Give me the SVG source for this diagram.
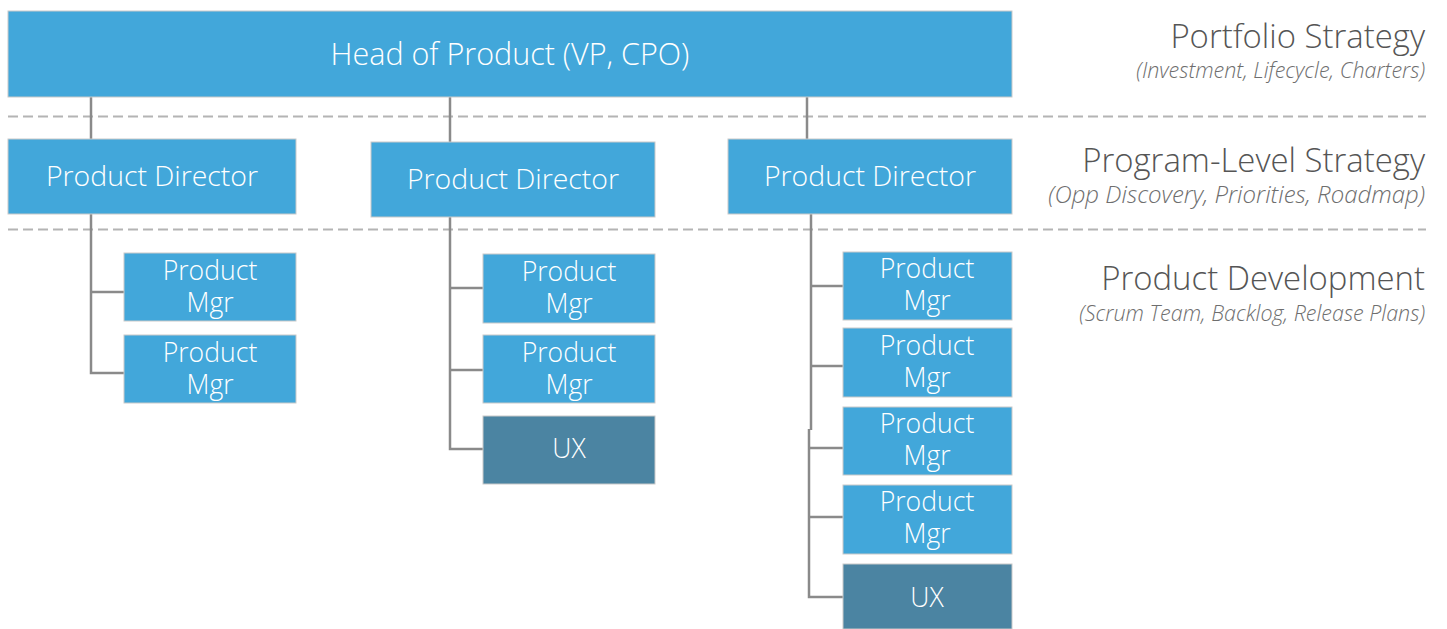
<svg xmlns="http://www.w3.org/2000/svg" width="1447" height="629" viewBox="0 0 1447 629">
  <style>
    .box { fill: #42a7da; stroke: #c9c9c9; stroke-width: 1; }
    .ux { fill: #4b84a2; stroke: #c9c9c9; stroke-width: 1; }
    .lbl { font-family: "Open Sans", "Liberation Sans", sans-serif; font-weight: 300; fill: #ffffff; text-anchor: middle; }
    .head { font-size: 30.5px; }
    .dir { font-size: 28.4px; }
    .mgr { font-size: 26.6px; }
    .tier { font-family: "Open Sans", "Liberation Sans", sans-serif; font-weight: 300; fill: #555555; text-anchor: end; font-size: 32.9px; }
    .sub { font-family: "Open Sans", "Liberation Sans", sans-serif; font-weight: 300; fill: #6e6e6e; text-anchor: end; font-size: 21.5px; font-style: italic; }
    .sub-lg { font-size: 24px; }
    .divider { stroke: #b4b4b4; stroke-width: 2; stroke-dasharray: 10 5; fill: none; }
    .wire { stroke: #8a8a8a; stroke-width: 2.5; fill: none; }
  </style>

  <!-- tier dividers -->
  <g id="dividers">
    <line class="divider" x1="8" y1="116.5" x2="1426" y2="116.5"/>
    <line class="divider" x1="8" y1="229.5" x2="1426" y2="229.5"/>
  </g>

  <!-- connectors -->
  <g id="connectors">
    <path class="wire" d="M91 97 V139 M450 97 V142 M807 97 V139"/>
    <path class="wire" d="M91 214 V373 H124 M91 292 H124"/>
    <path class="wire" d="M450 217 V449 H483 M450 288 H483 M450 370 H483"/>
    <path class="wire" d="M811 214 V430 M809 429 V597 H843 M811 286 H843 M811 366 H843 M810 448 H843 M809 517 H843"/>
  </g>

  <!-- tier labels -->
  <g id="tier-portfolio">
    <text class="tier" x="1425" y="48">Portfolio Strategy</text>
    <text class="sub" x="1425" y="78">(Investment, Lifecycle, Charters)</text>
  </g>
  <g id="tier-program">
    <text class="tier" x="1425" y="172">Program-Level Strategy</text>
    <text class="sub sub-lg" x="1425" y="203">(Opp Discovery, Priorities, Roadmap)</text>
  </g>
  <g id="tier-development">
    <text class="tier" x="1425" y="290">Product Development</text>
    <text class="sub" x="1425" y="321">(Scrum Team, Backlog, Release Plans)</text>
  </g>

  <!-- head -->
  <g id="head">
    <rect class="box" x="8" y="11" width="1004" height="86"/>
    <text class="lbl head" x="510" y="65">Head of Product (VP, CPO)</text>
  </g>

  <!-- directors -->
  <g id="director-1">
    <rect class="box" x="8" y="139" width="288" height="75"/>
    <text class="lbl dir" x="152" y="186">Product Director</text>
  </g>
  <g id="director-2">
    <rect class="box" x="371" y="142" width="284" height="75"/>
    <text class="lbl dir" x="513" y="189">Product Director</text>
  </g>
  <g id="director-3">
    <rect class="box" x="728" y="139" width="284" height="75"/>
    <text class="lbl dir" x="870" y="186">Product Director</text>
  </g>

  <!-- team under director 1 -->
  <g id="mgr-1a">
    <rect class="box" x="124" y="253" width="172" height="68"/>
    <text class="lbl mgr" x="210" y="280">Product<tspan x="210" dy="32">Mgr</tspan></text>
  </g>
  <g id="mgr-1b">
    <rect class="box" x="124" y="335" width="172" height="68"/>
    <text class="lbl mgr" x="210" y="362">Product<tspan x="210" dy="32">Mgr</tspan></text>
  </g>

  <!-- team under director 2 -->
  <g id="mgr-2a">
    <rect class="box" x="483" y="254" width="172" height="69"/>
    <text class="lbl mgr" x="569" y="281">Product<tspan x="569" dy="32">Mgr</tspan></text>
  </g>
  <g id="mgr-2b">
    <rect class="box" x="483" y="335" width="172" height="68"/>
    <text class="lbl mgr" x="569" y="362">Product<tspan x="569" dy="32">Mgr</tspan></text>
  </g>
  <g id="ux-2">
    <rect class="ux" x="483" y="416" width="172" height="68"/>
    <text class="lbl mgr" x="569" y="458">UX</text>
  </g>

  <!-- team under director 3 -->
  <g id="mgr-3a">
    <rect class="box" x="843" y="252" width="169" height="68"/>
    <text class="lbl mgr" x="927" y="278">Product<tspan x="927" dy="32">Mgr</tspan></text>
  </g>
  <g id="mgr-3b">
    <rect class="box" x="843" y="328" width="169" height="69"/>
    <text class="lbl mgr" x="927" y="355">Product<tspan x="927" dy="32">Mgr</tspan></text>
  </g>
  <g id="mgr-3c">
    <rect class="box" x="843" y="407" width="169" height="68"/>
    <text class="lbl mgr" x="927" y="433">Product<tspan x="927" dy="32">Mgr</tspan></text>
  </g>
  <g id="mgr-3d">
    <rect class="box" x="843" y="485" width="169" height="69"/>
    <text class="lbl mgr" x="927" y="511">Product<tspan x="927" dy="32">Mgr</tspan></text>
  </g>
  <g id="ux-3">
    <rect class="ux" x="843" y="564" width="169" height="65"/>
    <text class="lbl mgr" x="927" y="607">UX</text>
  </g>
</svg>
